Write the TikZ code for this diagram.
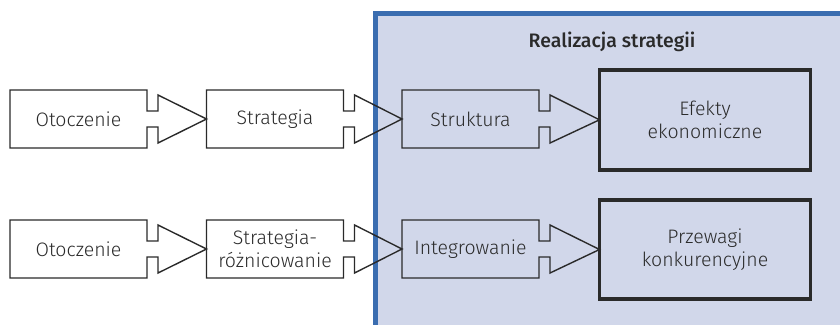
\documentclass[tikz,border=0pt]{standalone}
\usepackage{fontspec}
\setmainfont{Fira Sans Light}[BoldFont=Fira Sans Medium]
\usetikzlibrary{calc}
\definecolor{frameblue}{HTML}{3A6DB0}
\definecolor{lav}{HTML}{D1D7EA}
\definecolor{ink}{HTML}{2A2A2A}
\tikzset{
  box/.style={minimum width=137pt, minimum height=58pt, inner sep=0pt, outer sep=0pt, align=center, font=\fontsize{19.5}{23}\selectfont, text=ink},
  bigbox/.style={box, draw=ink, line width=3.5pt, minimum width=211pt, minimum height=100pt},
  outline/.style={draw=ink, line width=1.4pt, line join=miter},
}
\newcommand\boxarrow[2]{\draw[outline] ($(#1.east)+(0,8)$) -- (#1.south east) -- (#1.south west) -- (#1.north west) -- (#1.north east) -- ($(#1.east)+(0,-8)$) -- ++(11,0) -- ++(0,-16) -- (#2.west) -- ($(#1.east)+(11,24)$) -- ++(0,-16) -- cycle;}
\begin{document}
\begin{tikzpicture}[x=1pt,y=-1pt]
\useasboundingbox (0,0) rectangle (840,324);
\clip (0,0) rectangle (840,324);
\fill[white] (0,0) rectangle (840,324);
\draw[fill=lav, draw=frameblue, line width=5pt] (375.5,13.5) rectangle (870,350);
\node[anchor=base, font=\fontsize{19.5}{22}\selectfont\bfseries, text=ink] (title) at (612,47.5) {Realizacja strategii};
% row 1
\node[box] (ot1) at (78.5,119) {Otoczenie};
\node[box] (st1) at (275,119) {Strategia};
\node[box] (sk1) at (470.5,119) {Struktura};
\node[bigbox] (ef) at (705,119.8) {Efekty\\ekonomiczne};
% row 2
\node[box] (ot2) at (78.5,249) {Otoczenie};
\node[box] (st2) at (275,249) {Strategia-\\różnicowanie};
\node[box] (in2) at (470.5,249) {Integrowanie};
\node[bigbox, minimum height=99pt] (pr) at (705,249.5) {Przewagi\\konkurencyjne};
\boxarrow{ot1}{st1}
\boxarrow{st1}{sk1}
\boxarrow{sk1}{ef}
\boxarrow{ot2}{st2}
\boxarrow{st2}{in2}
\boxarrow{in2}{pr}
\end{tikzpicture}
\end{document}
